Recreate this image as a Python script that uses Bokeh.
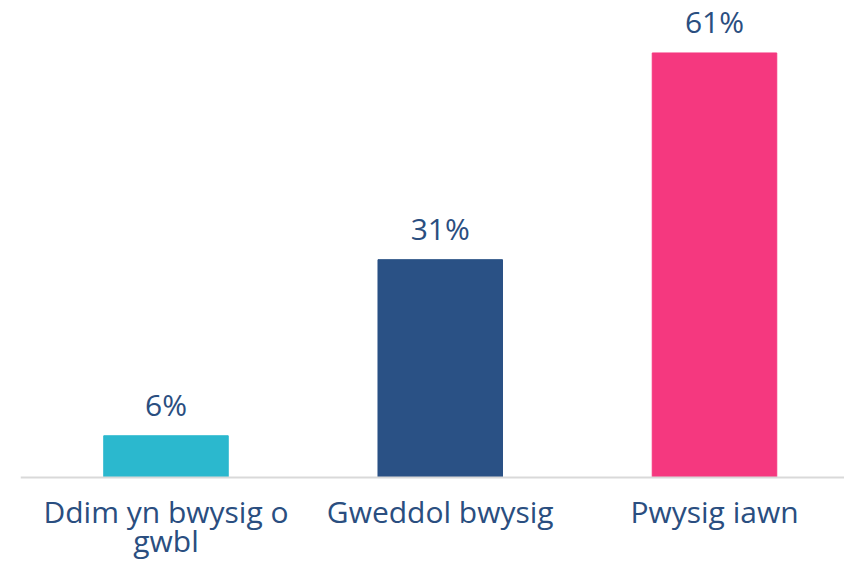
from bokeh.plotting import figure
from bokeh.models import ColumnDataSource, Range1d, Span
from bokeh.core.properties import value
from bokeh.embed import file_html
from bokeh.resources import INLINE

categories = ["Ddim yn bwysig o\ngwbl", "Gweddol bwysig", "Pwysig iawn"]
values = [6.0, 31.3, 61.0]
labels = ["6%", "31%", "61%"]
colors = ["#2bb8ce", "#2a5185", "#f5387f"]

xs = list(range(len(categories)))
zeros = [0] * len(categories)
line1 = [c.split("\n")[0] for c in categories]
line2 = [c.split("\n")[1] if "\n" in c else "" for c in categories]
src = ColumnDataSource(dict(x=xs, top=values, zero=zeros, label=labels,
                            l1=line1, l2=line2, color=colors))

FONT = "Open Sans"
TEXT_COLOR = "#2a4e80"

p = figure(width=844, height=562, output_backend="svg", toolbar_location=None,
           x_range=Range1d(-0.5305, 2.474), y_range=Range1d(-12.21, 68.54),
           min_border_left=20, min_border_right=0, min_border_top=0,
           min_border_bottom=0)
p.outline_line_color = None
p.xgrid.visible = False
p.ygrid.visible = False
p.xaxis.visible = False
p.yaxis.visible = False

p.add_layout(Span(location=0, dimension="width", line_color="#d9d9d9",
                  line_width=2))

p.vbar(x="x", top="top", bottom=0, width=0.454, color="color", source=src)
p.text(x="x", y="top", text="label", source=src, text_align="center",
       text_baseline="alphabetic", y_offset=-31, text_font=value(FONT),
       text_font_size="30px", text_color=TEXT_COLOR)
p.text(x="x", y="zero", text="l1", source=src, text_align="center",
       text_baseline="alphabetic", y_offset=34, text_font=value(FONT),
       text_font_size="30px", text_color=TEXT_COLOR)
p.text(x="x", y="zero", text="l2", source=src, text_align="center",
       text_baseline="alphabetic", y_offset=63, text_font=value(FONT),
       text_font_size="30px", text_color=TEXT_COLOR)

open("out.html", "w").write(file_html(p, INLINE))
